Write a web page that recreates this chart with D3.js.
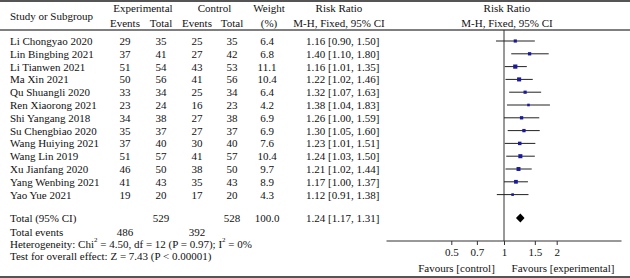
<!DOCTYPE html>
<html>
<head>
<meta charset="utf-8">
<script src="https://cdn.jsdelivr.net/npm/d3@7"></script>
<style>
  body { margin: 0; background: #fff; }
  svg text { font-family: "Liberation Serif", "DejaVu Serif", serif; font-size: 11px; fill: #111; }
</style>
</head>
<body>
<svg id="chart" width="630" height="278"></svg>
<script>
var studies = ["Li Chongyao 2020", "Lin Bingbing 2021", "Li Tianwen 2021", "Ma Xin 2021",
    "Qu Shuangli 2020", "Ren Xiaorong 2021", "Shi Yangang 2018", "Su Chengbiao 2020",
    "Wang Huiying 2021", "Wang Lin 2019", "Xu Jianfang 2020", "Yang Wenbing 2021", "Yao Yue 2021"];
var expEvents = [29, 37, 51, 50, 33, 23, 34, 35, 37, 51, 46, 41, 19];
var expTotal = [35, 41, 54, 56, 34, 24, 38, 37, 40, 57, 50, 43, 20];
var ctrlEvents = [25, 27, 43, 41, 25, 16, 27, 27, 30, 41, 38, 35, 17];
var ctrlTotal = [35, 42, 53, 56, 34, 23, 38, 37, 40, 57, 50, 43, 20];
var weights = [6.4, 6.8, 11.1, 10.4, 6.4, 4.2, 6.9, 6.9, 7.6, 10.4, 9.7, 8.9, 4.3];
var rr = [1.16, 1.40, 1.16, 1.22, 1.32, 1.38, 1.26, 1.30, 1.23, 1.24, 1.21, 1.17, 1.12];
var rrLow = [0.90, 1.10, 1.01, 1.02, 1.07, 1.04, 1.00, 1.05, 1.01, 1.03, 1.02, 1.00, 0.91];
var rrHigh = [1.50, 1.80, 1.35, 1.46, 1.63, 1.83, 1.59, 1.60, 1.51, 1.50, 1.44, 1.37, 1.38];
var total = { exp: 529, ctrl: 528, weight: "100.0", rr: 1.24, low: 1.17, high: 1.31 };
var totalEvents = { exp: 486, ctrl: 392 };
var axisTicks = [0.5, 0.7, 1, 1.5, 2];

var svg = d3.select("#chart");
var rowY = function(i) { return 41 + i * 12.8; },
    col = { study: 10, ee: 125, et: 161, ce: 197, ct: 232, w: 267, rr: 306 };

var x = d3.scaleLog().domain([1 / 4.69, 4.69]).range([386.5, 621.5]);
var boxSize = d3.scaleSqrt().domain([0, 11.1]).range([0, 4.2]);

function txt(xp, yp, s, anchor) {
    return svg.append("text").attr("x", xp).attr("y", yp)
        .attr("dominant-baseline", "central")
        .attr("text-anchor", anchor || "start")
        .text(s);
}
function fmt(v) { return v.toFixed(2); }

// rules
svg.append("line").attr("x1", 0).attr("x2", 630).attr("y1", 1).attr("y2", 1)
    .attr("stroke", "#555").attr("stroke-width", 2);
svg.append("line").attr("x1", 0).attr("x2", 630).attr("y1", 30).attr("y2", 30)
    .attr("stroke", "#555").attr("stroke-width", 1.3);
svg.append("line").attr("x1", 0).attr("x2", 630).attr("y1", 277).attr("y2", 277)
    .attr("stroke", "#555").attr("stroke-width", 2);

// header
txt(col.study, 16, "Study or Subgroup");
txt((col.ee + col.et) / 2, 7.5, "Experimental", "middle");
txt(col.ee, 22.7, "Events", "middle");
txt(col.et, 22.7, "Total", "middle");
txt((col.ce + col.ct) / 2, 7.5, "Control", "middle");
txt(col.ce, 22.7, "Events", "middle");
txt(col.ct, 22.7, "Total", "middle");
txt(col.w + 2, 7.5, "Weight", "middle");
txt(col.w + 2, 22.7, "(%)", "middle");
txt(339, 7.5, "Risk Ratio", "middle");
txt(339, 22.7, "M-H, Fixed, 95% CI", "middle");
txt(507, 7.5, "Risk Ratio", "middle");
txt(507, 22.7, "M-H, Fixed, 95% CI", "middle");

// study rows
studies.forEach(function(s, i) {
    var y = rowY(i);
    txt(col.study, y, s);
    txt(col.ee, y, expEvents[i], "middle");
    txt(col.et, y, expTotal[i], "middle");
    txt(col.ce, y, ctrlEvents[i], "middle");
    txt(col.ct, y, ctrlTotal[i], "middle");
    txt(col.w, y, weights[i].toFixed(1), "middle");
    txt(col.rr, y, fmt(rr[i]) + " [" + fmt(rrLow[i]) + ", " + fmt(rrHigh[i]) + "]");
});

// totals
var ty = 218;
txt(col.study, ty, "Total (95% CI)");
txt(col.et, ty, total.exp, "middle");
txt(col.ct, ty, total.ctrl, "middle");
txt(col.w, ty, total.weight, "middle");
txt(col.rr, ty, fmt(total.rr) + " [" + fmt(total.low) + ", " + fmt(total.high) + "]");
txt(col.study, 231.5, "Total events");
txt(col.ee, 231.5, totalEvents.exp, "middle");
txt(col.ce, 231.5, totalEvents.ctrl, "middle");

var het = txt(col.study, 243.7, "Heterogeneity: Chi");
het.append("tspan").attr("dy", -4).attr("font-size", "7px").text("2");
het.append("tspan").attr("dy", 4).text(" = 4.50, df = 12 (P = 0.97); I");
het.append("tspan").attr("dy", -4).attr("font-size", "7px").text("2");
het.append("tspan").attr("dy", 4).text(" = 0%");
txt(col.study, 256, "Test for overall effect: Z = 7.43 (P < 0.00001)");

// forest plot
svg.append("line").attr("x1", x(1)).attr("x2", x(1)).attr("y1", 30).attr("y2", 241)
    .attr("stroke", "#333").attr("stroke-width", 1);

var g = svg.selectAll("g.study").data(studies).enter().append("g").attr("class", "study");
g.append("line")
    .attr("x1", function(d, i) { return x(rrLow[i]); })
    .attr("x2", function(d, i) { return x(rrHigh[i]); })
    .attr("y1", function(d, i) { return rowY(i); })
    .attr("y2", function(d, i) { return rowY(i); })
    .attr("stroke", "#222").attr("stroke-width", 1);
g.append("rect")
    .attr("x", function(d, i) { return x(rr[i]) - boxSize(weights[i]) / 2; })
    .attr("y", function(d, i) { return rowY(i) - boxSize(weights[i]) / 2; })
    .attr("width", function(d, i) { return boxSize(weights[i]); })
    .attr("height", function(d, i) { return boxSize(weights[i]); })
    .attr("fill", "#1a1a9a");

svg.append("path")
    .attr("d", "M" + x(total.low) + "," + ty + "L" + x(total.rr) + "," + (ty - 4.5) +
        "L" + x(total.high) + "," + ty + "L" + x(total.rr) + "," + (ty + 4.5) + "Z")
    .attr("fill", "#000");

// axis
var axis = svg.append("g").attr("transform", "translate(0,241)")
    .call(d3.axisBottom(x).tickValues(axisTicks).tickSize(4).tickFormat(function(d) { return d; }));
axis.select(".domain").attr("stroke", "#333").attr("d", "M" + x.range()[0] + ",0H" + x.range()[1]);
axis.selectAll(".tick line").attr("stroke", "#333");
axis.selectAll(".tick text").attr("font-family", "Liberation Serif").attr("font-size", "11px")
    .attr("fill", "#111").attr("y", 7);

txt(456.5, 268, "Favours [control]", "middle");
txt(563, 268, "Favours [experimental]", "middle");
</script>
</body>
</html>
